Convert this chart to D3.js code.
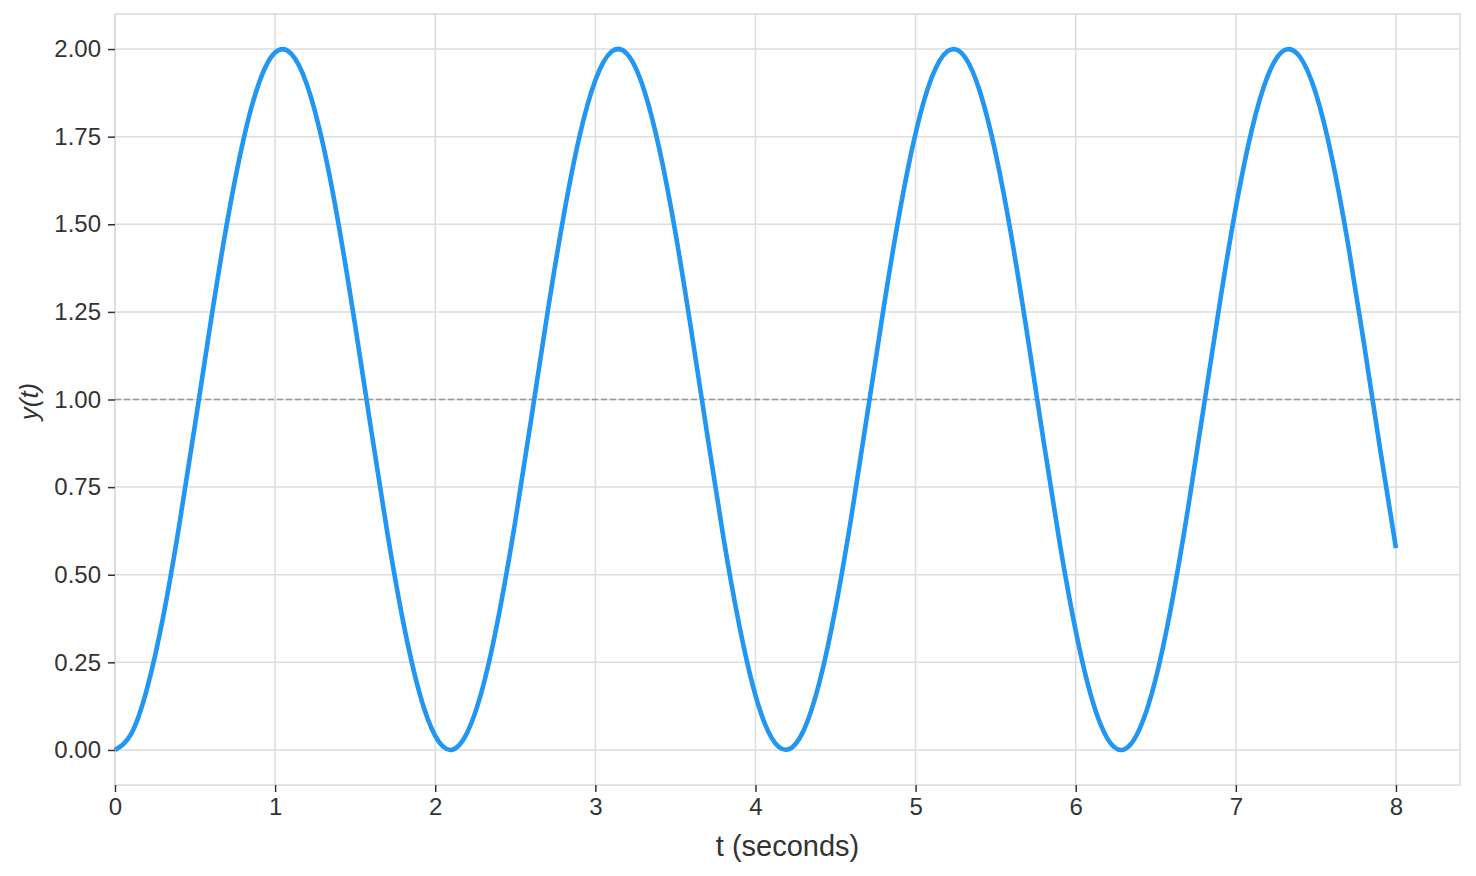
<!DOCTYPE html>
<html>
<head>
<meta charset="utf-8">
<script src="https://cdn.jsdelivr.net/npm/d3@7"></script>
<style>
html,body{margin:0;padding:0;background:#fff;}
svg{display:block;font-family:"Liberation Sans",Arial,sans-serif;}
</style>
</head>
<body>
<svg id="chart" width="1476" height="876"></svg>
<script>
// sample times (seconds)
const times = [0.0,0.1,0.2,0.3,0.4,0.5,0.6,0.7,0.8,0.9,1.0,1.1,1.2,1.3,1.4,1.5,1.6,1.7,1.8,1.9,
2.0,2.1,2.2,2.3,2.4,2.5,2.6,2.7,2.8,2.9,3.0,3.1,3.2,3.3,3.4,3.5,3.6,3.7,3.8,3.9,
4.0,4.1,4.2,4.3,4.4,4.5,4.6,4.7,4.8,4.9,5.0,5.1,5.2,5.3,5.4,5.5,5.6,5.7,5.8,5.9,
6.0,6.1,6.2,6.3,6.4,6.5,6.6,6.7,6.8,6.9,7.0,7.1,7.2,7.3,7.4,7.5,7.6,7.7,7.8,7.9,8.0];
// y(t) values
const yValues = [0.000,0.045,0.175,0.378,0.638,0.929,1.227,1.505,1.737,1.904,1.990,1.987,1.897,1.726,1.490,1.211,0.913,0.622,0.365,0.165,
0.040,0.000,0.050,0.184,0.392,0.653,0.946,1.244,1.519,1.749,1.911,1.992,1.985,1.889,1.714,1.476,1.194,0.896,0.606,0.353,
0.156,0.035,0.001,0.055,0.194,0.405,0.669,0.963,1.260,1.534,1.760,1.918,1.994,1.982,1.881,1.702,1.461,1.178,0.879,0.591,
0.340,0.147,0.031,0.001,0.061,0.204,0.419,0.685,0.980,1.276,1.548,1.770,1.924,1.996,1.978,1.873,1.690,1.446,1.161,0.862,0.576];
const referenceLevel = [1.0];
const xTicks = [0,1,2,3,4,5,6,7,8];
const yTicks = [0,0.25,0.5,0.75,1.0,1.25,1.5,1.75,2.0];
const xLabel = "t (seconds)";
const yLabel = "y(t)";

const svg = d3.select("#chart");
const L = 115, R = 1460, T = 14, B = 785;
const x = d3.scaleLinear().domain([0, 8.4]).range([L, R]);
const y = d3.scaleLinear().domain([-0.1, 2.1]).range([B, T]);

const grid = "#dddddd";
// grid lines
svg.append("g").selectAll("line").data(xTicks).join("line")
  .attr("x1", d => x(d)).attr("x2", d => x(d)).attr("y1", T).attr("y2", B)
  .attr("stroke", grid).attr("stroke-width", 1.5);
svg.append("g").selectAll("line").data(yTicks).join("line")
  .attr("y1", d => y(d)).attr("y2", d => y(d)).attr("x1", L).attr("x2", R)
  .attr("stroke", grid).attr("stroke-width", 1.5);

// frame
svg.append("rect").attr("x", L).attr("y", T).attr("width", R - L).attr("height", B - T)
  .attr("fill", "none").attr("stroke", grid).attr("stroke-width", 1.6);

// axes
const xAxis = d3.axisBottom(x).tickValues(xTicks).tickFormat(d3.format("d")).tickSize(7).tickPadding(6);
const gx = svg.append("g").attr("transform", `translate(0,${B})`).call(xAxis);
const yAxis = d3.axisLeft(y).tickValues(yTicks).tickFormat(d3.format(".2f")).tickSize(7).tickPadding(7);
const gy = svg.append("g").attr("transform", `translate(${L},0)`).call(yAxis);
[gx, gy].forEach(g => {
  g.select(".domain").remove();
  g.selectAll(".tick line").attr("stroke", "#333").attr("stroke-width", 1.5);
  g.selectAll(".tick text").attr("fill", "#333").attr("font-size", 24)
    .attr("font-family", "Liberation Sans, Arial, sans-serif");
});

// reference line
svg.append("g").selectAll("line").data(referenceLevel).join("line")
  .attr("x1", L).attr("x2", R).attr("y1", d => y(d)).attr("y2", d => y(d))
  .attr("stroke", "#999999").attr("stroke-width", 1.6).attr("stroke-dasharray", "6,3");

// curve
const pts = times.map((t, i) => [t, yValues[i]]);
svg.append("path").datum(pts)
  .attr("fill", "none").attr("stroke", "#2196F3").attr("stroke-width", 4.6)
  .attr("stroke-linejoin", "round")
  .attr("d", d3.line().x(d => x(d[0])).y(d => y(d[1])).curve(d3.curveNatural));

// labels
svg.append("text").attr("x", (L + R) / 2).attr("y", 856).attr("text-anchor", "middle")
  .attr("font-size", 29).attr("fill", "#333").text(xLabel);
svg.append("text").attr("transform", `translate(38,${(T + B) / 2 + 2}) rotate(-90)`)
  .attr("text-anchor", "middle").attr("font-size", 26).attr("font-style", "italic")
  .attr("fill", "#333").text(yLabel);
</script>
</body>
</html>
